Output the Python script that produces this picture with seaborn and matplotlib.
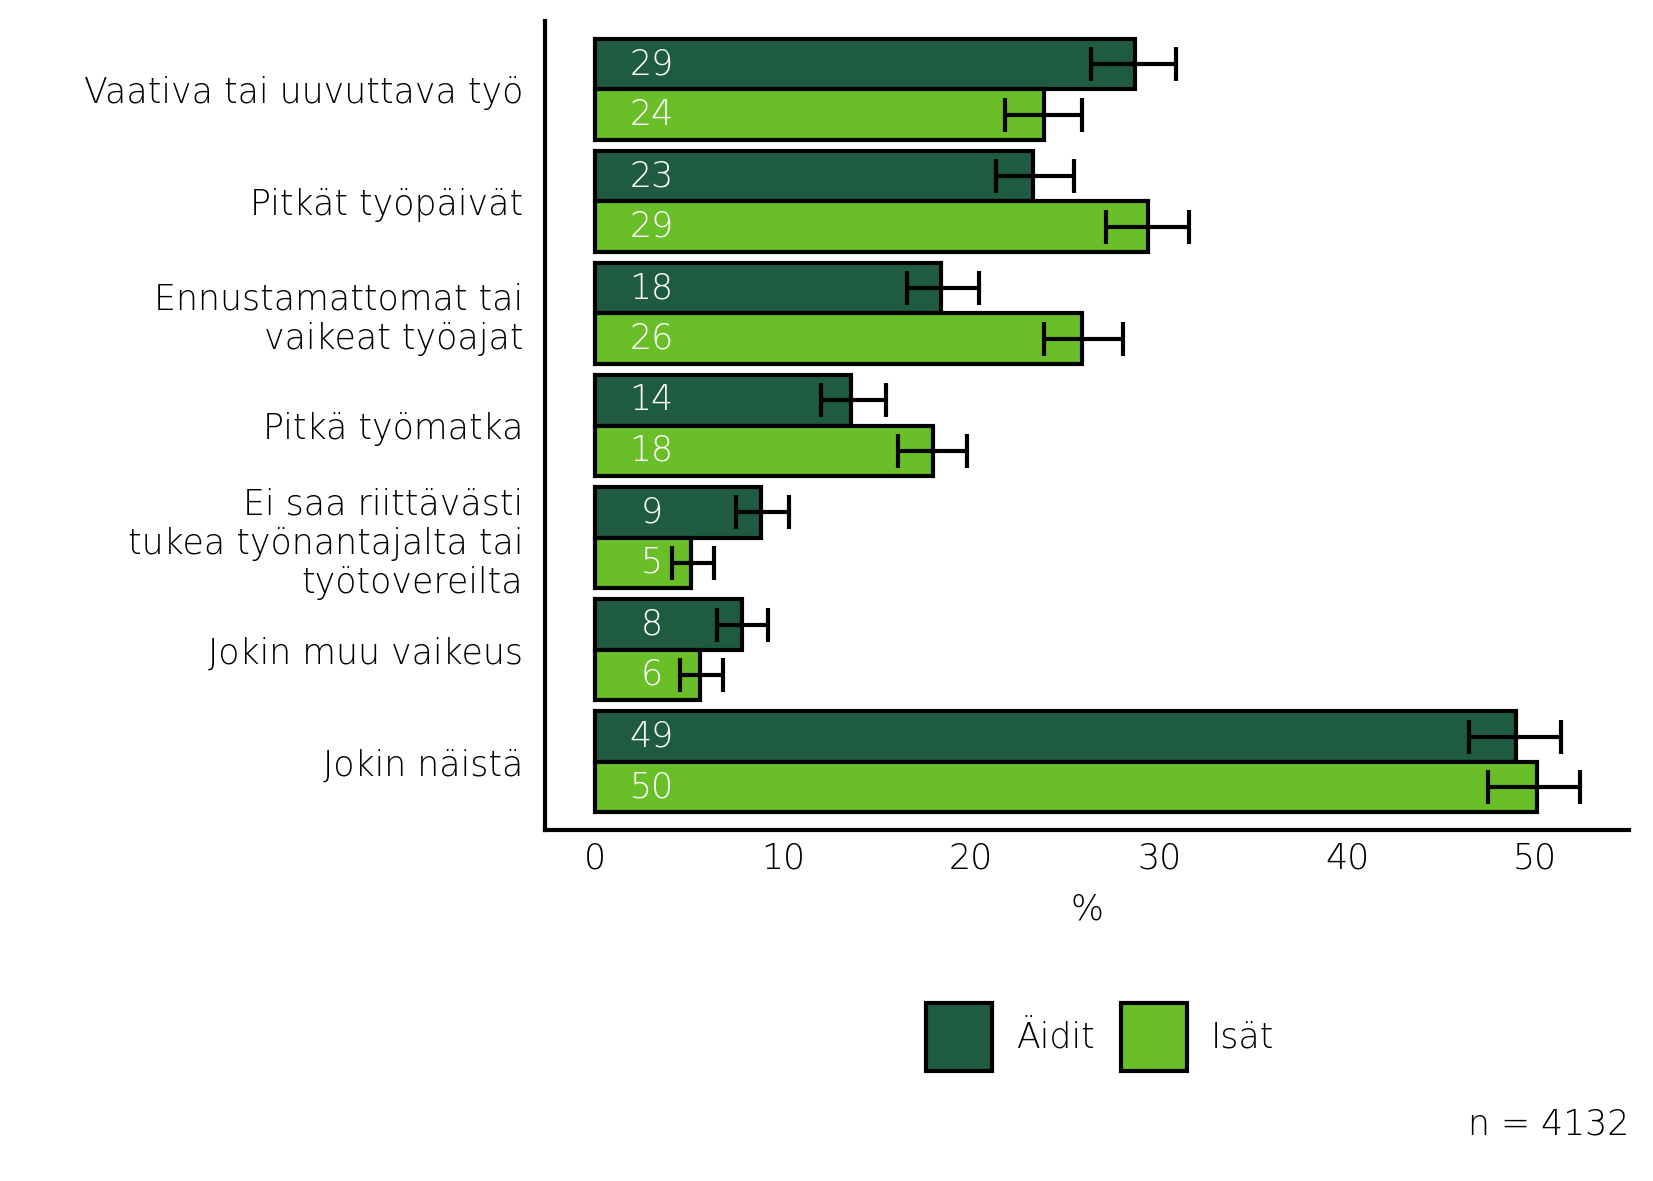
import numpy as np
import pandas as pd
import matplotlib
matplotlib.use("Agg")
import matplotlib.pyplot as plt
import seaborn as sns

# data
categories = ["Vaativa tai uuvuttava työ", "Pitkät työpäivät",
              "Ennustamattomat tai\nvaikeat työajat", "Pitkä työmatka",
              "Ei saa riittävästi\ntukea työnantajalta tai\ntyötovereilta",
              "Jokin muu vaikeus", "Jokin näistä"]
groups = ["Äidit", "Isät"]
aidit = [28.7, 23.3, 18.4, 13.6, 8.8, 7.8, 49.0]
isat = [23.9, 29.4, 25.9, 18.0, 5.1, 5.6, 50.1]
aidit_lo = [26.4, 21.3, 16.6, 12.0, 7.5, 6.5, 46.5]
aidit_hi = [30.9, 25.5, 20.4, 15.5, 10.3, 9.2, 51.4]
isat_lo = [21.8, 27.2, 23.9, 16.1, 4.1, 4.5, 47.5]
isat_hi = [25.9, 31.6, 28.1, 19.8, 6.3, 6.8, 52.4]
labels_aidit = ["29", "23", "18", "14", "9", "8", "49"]
labels_isat = ["24", "29", "26", "18", "5", "6", "50"]
colors = ["#1f5b41", "#6abf29"]

df = pd.DataFrame({
    "kategoria": categories * 2,
    "ryhma": [groups[0]] * len(categories) + [groups[1]] * len(categories),
    "arvo": aidit + isat,
})

sns.set_style("white")
plt.rcParams['font.family'] = ['DejaVu Sans']
plt.rcParams['font.weight'] = 'light'
plt.rcParams['axes.labelweight'] = 'light'
plt.rcParams['text.color'] = 'black'
plt.rcParams['axes.labelcolor'] = 'black'
FS = 25

fig = plt.figure(figsize=(16.53, 11.81), dpi=100)
ax = fig.add_axes([0.330, 0.297, 0.6555, 0.685])

sns.barplot(data=df, y="kategoria", x="arvo", hue="ryhma", orient="h",
            palette=colors, saturation=1, width=0.9, gap=0, errorbar=None,
            edgecolor="black", linewidth=3, ax=ax)

bar_conts = list(ax.containers)
lows = [aidit_lo, isat_lo]
highs = [aidit_hi, isat_hi]
vals = [aidit, isat]
texts = [labels_aidit, labels_isat]
for i, cont in enumerate(bar_conts):
    ys = [p.get_y() + p.get_height() / 2 for p in cont.patches]
    v = np.array(vals[i])
    lo = v - np.array(lows[i])
    hi = np.array(highs[i]) - v
    ax.errorbar(v, ys, xerr=[lo, hi], fmt="none", ecolor="black",
                elinewidth=3, capsize=12, capthick=3, zorder=5)
    for y, t in zip(ys, texts[i]):
        ax.text(3.0, y, t, color="white", fontsize=FS, ha="center",
                va="center", zorder=6)

ax.set_xlim(-2.64, 55.0)
ax.set_ylim(6.61, -0.607)
ax.set_xticks([0, 10, 20, 30, 40, 50])
ax.tick_params(axis="both", length=0, labelsize=FS, colors="black")
ax.tick_params(axis="y", pad=16)
ax.tick_params(axis="x", pad=8)
ax.set_ylabel("")
ax.set_xlabel("%", fontsize=FS, labelpad=12, fontweight="light")
for s in ["top", "right"]:
    ax.spines[s].set_visible(False)
for s in ["left", "bottom"]:
    ax.spines[s].set_linewidth(3)
    ax.spines[s].set_color("black")

ax.legend_.remove()
handles = [plt.Rectangle((0, 0), 1, 1, facecolor=c, edgecolor="black", linewidth=3)
           for c in colors]
fig.legend(handles, groups, loc="center", bbox_to_anchor=(0.6656, 0.122),
           ncol=2, frameon=False, fontsize=FS, handlelength=1.9,
           handleheight=2.67, handletextpad=0.7, columnspacing=0.75)

fig.text(0.9855, 0.048, "n = 4132", ha="right", va="center", fontsize=FS)

plt.savefig("out.png", dpi=100)
